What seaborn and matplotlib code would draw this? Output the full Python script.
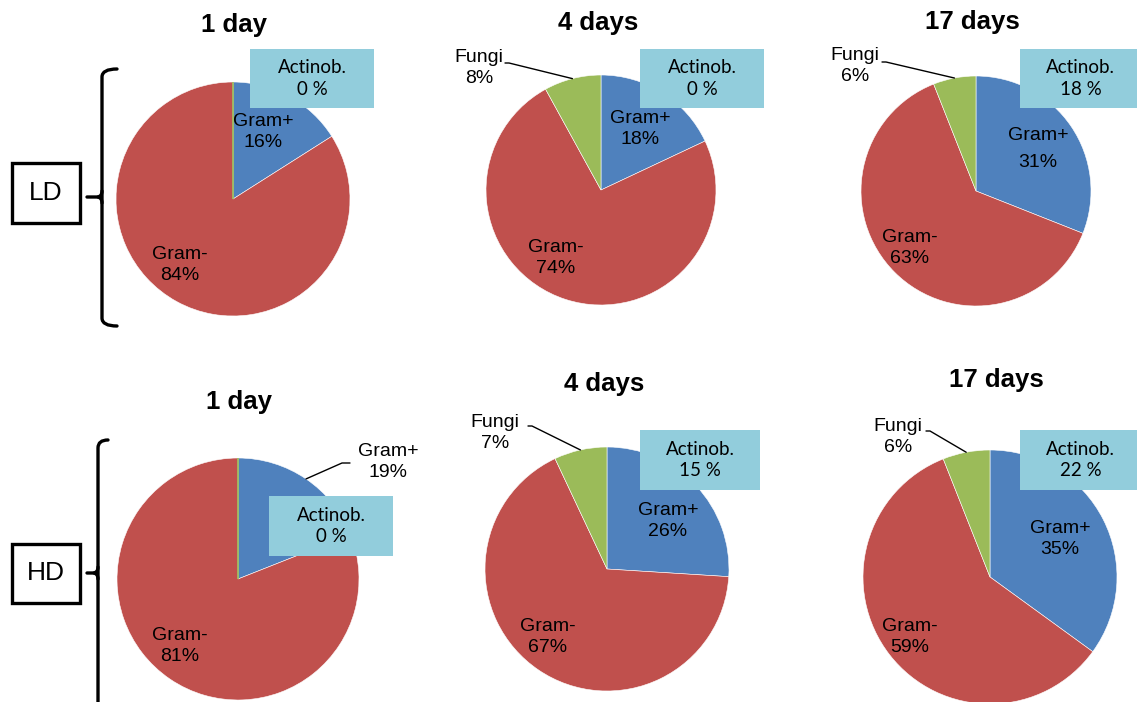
import matplotlib
matplotlib.use("Agg")
import numpy as np
import matplotlib.pyplot as plt
from matplotlib.patches import Rectangle, PathPatch
from matplotlib.path import Path
import seaborn as sns

# ---- data -------------------------------------------------------------
periods = ["1 day", "4 days", "17 days"]
groups = ["LD", "HD"]
taxa = ["Gram+", "Gram-", "Fungi"]

ld_gram_pos = [16, 18, 31]
ld_gram_neg = [84, 74, 63]
ld_fungi = [0, 8, 6]
ld_actinob = [0, 0, 18]

hd_gram_pos = [19, 26, 35]
hd_gram_neg = [81, 67, 59]
hd_fungi = [0, 7, 6]
hd_actinob = [0, 15, 22]

# ---- style ------------------------------------------------------------
sns.set_theme(style="white")
pie_colors = sns.color_palette(["#4F81BD", "#C0504D", "#9BBB59"])
box_color = "#92CDDC"
plt.rcParams["font.family"] = ["Liberation Sans", "DejaVu Sans"]
plt.rcParams["text.color"] = "black"

W, H = 1137, 702

# ---- layout (pixel coordinates, y grows downwards) --------------------
layout = {
    "LD": dict(
        centers=[(233, 199), (601, 190), (976, 191)],
        radii=[117, 115, 115],
        titles=[(234, 25), (598, 23), (972, 22)],
        boxes=[(250, 49, 124, 59), (640, 49, 124, 59), (1020, 49, 124, 59)],
        pos_labels=[(263, 132), (640, 129), (1038, 149)],
        pos_spacing=[1.3, 1.3, 1.8],
        neg_labels=[(180, 265), (556, 258), (910, 248)],
        fungi_labels=[None, (479, 68), (855, 66)],
        fungi_leaders=[None, (505, 63), (882, 62)],
        pos_leader=[None, None, None],
        brace=dict(x=102, top=69, bottom=326, mid=197, hook=117),
        tag=(12, 163, 68, 60),
    ),
    "HD": dict(
        centers=[(238, 579), (607, 569), (990, 577)],
        radii=[121, 122, 127],
        titles=[(239, 402), (604, 384), (996, 380)],
        boxes=[(269, 496, 124, 60), (640, 430, 120, 60), (1020, 430, 124, 60)],
        pos_labels=[(388, 462), (668, 521), (1060, 539)],
        pos_spacing=[1.3, 1.3, 1.3],
        neg_labels=[(180, 646), (548, 637), (910, 637)],
        fungi_labels=[None, (495, 433), (898, 437)],
        fungi_leaders=[None, (528, 426), (926, 431)],
        pos_leader=[(350, 463), None, None],
        brace=dict(x=98, top=440, bottom=740, mid=573, hook=108),
        tag=(12, 544, 68, 59),
    ),
}

values = {
    "LD": (ld_gram_pos, ld_gram_neg, ld_fungi, ld_actinob),
    "HD": (hd_gram_pos, hd_gram_neg, hd_fungi, hd_actinob),
}

fig = plt.figure(figsize=(W / 100, H / 100), dpi=100)
ax = fig.add_axes([0, 0, 1, 1])

label_kw = dict(fontsize=14, ha="center", va="center", color="black")


def edge_point(wedge):
    mid = np.deg2rad((wedge.theta1 + wedge.theta2) / 2)
    cx, cy = wedge.center
    return cx + wedge.r * np.cos(mid), cy + wedge.r * np.sin(mid)


def draw_brace(b):
    x, top, bottom, mid, hook = b["x"], b["top"], b["bottom"], b["mid"], b["hook"]
    verts = [(hook, top), (x, top), (x, top + 8), (x, bottom - 8), (x, bottom), (hook, bottom)]
    codes = [Path.MOVETO, Path.CURVE3, Path.CURVE3, Path.LINETO, Path.CURVE3, Path.CURVE3]
    ax.add_patch(PathPatch(Path(verts, codes), fill=False, lw=2.4, color="black",
                           capstyle="round", joinstyle="round"))
    tick = Path([(87, mid), (x - 4, mid), (x, mid - 1), (x, mid - 6)],
                [Path.MOVETO, Path.LINETO, Path.CURVE3, Path.CURVE3])
    ax.add_patch(PathPatch(tick, fill=False, lw=2.4, color="black", capstyle="round"))
    tick2 = Path([(x - 4, mid), (x, mid + 1), (x, mid + 6)],
                 [Path.MOVETO, Path.CURVE3, Path.CURVE3])
    ax.add_patch(PathPatch(tick2, fill=False, lw=2.4, color="black", capstyle="round"))


for g in groups:
    lay = layout[g]
    gp, gn, fu, ac = values[g]
    for i, period in enumerate(periods):
        cx, cy = lay["centers"][i]
        shares = [gp[i], gn[i], fu[i]]
        # y axis points down, so counter-clockwise in data is clockwise on screen
        wedges, _ = ax.pie(shares, colors=pie_colors, center=(cx, cy), radius=lay["radii"][i],
                           startangle=-90, counterclock=True, normalize=True,
                           wedgeprops=dict(edgecolor="white", linewidth=0.4))
        for w, v, c in zip(wedges, shares, pie_colors):
            if v == 0:
                w.set_edgecolor(c)
                w.set_linewidth(1.2)

        # title
        tx, ty = lay["titles"][i]
        ax.text(tx, ty, period, fontsize=18.5, fontweight="bold", ha="center", va="center",
                color="black")

        # slice labels
        px, py = lay["pos_labels"][i]
        ax.text(px, py, f"{taxa[0]}\n{gp[i]}%", linespacing=lay["pos_spacing"][i], **label_kw)
        nx, ny = lay["neg_labels"][i]
        ax.text(nx, ny, f"{taxa[1]}\n{gn[i]}%", linespacing=1.3, **label_kw)
        if lay["pos_leader"][i] is not None:
            lx, ly = lay["pos_leader"][i]
            ex, ey = edge_point(wedges[0])
            ax.plot([lx, lx - 8, ex], [ly, ly, ey], color="black", lw=1.0)
        if lay["fungi_labels"][i] is not None:
            fx, fy = lay["fungi_labels"][i]
            ax.text(fx, fy, f"{taxa[2]}\n{fu[i]}%", linespacing=1.3, **label_kw)
            lx, ly = lay["fungi_leaders"][i]
            ex, ey = edge_point(wedges[2])
            ax.plot([lx, lx + 4, ex], [ly, ly, ey], color="black", lw=1.0)

        # Actinobacteria box
        bx, by, bw, bh = lay["boxes"][i]
        ax.add_patch(Rectangle((bx, by), bw, bh, facecolor=box_color, edgecolor="none", zorder=3))
        ax.text(bx + bw / 2 if bx + bw <= W else (bx + W) / 2 + 2, by + bh / 2,
                f"Actinob.\n{ac[i]} %", fontsize=13.5, family=["Lato", "DejaVu Sans"],
                ha="center", va="center", linespacing=1.35, zorder=4, color="black")

    # group tag and brace
    x0, y0, w0, h0 = lay["tag"]
    ax.add_patch(Rectangle((x0, y0), w0, h0, facecolor="white", edgecolor="black", lw=2.4))
    ax.text(x0 + w0 / 2, y0 + h0 / 2, g, fontsize=19, ha="center", va="center", color="black")
    draw_brace(lay["brace"])

ax.set_xlim(0, W)
ax.set_ylim(H, 0)
ax.set_aspect("equal")
ax.set_axis_off()
sns.despine(ax=ax, left=True, bottom=True)

fig.savefig("out.png", dpi=100)
